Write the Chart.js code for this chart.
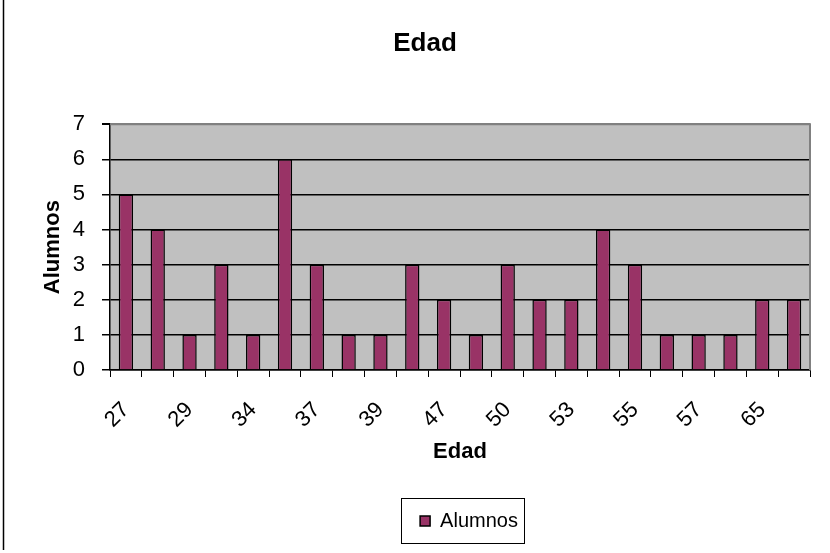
<!DOCTYPE html>
<html>
<head>
<meta charset="utf-8">
<script src="https://cdn.jsdelivr.net/npm/chart.js@4/dist/chart.umd.min.js"></script>
<style>
  body { margin: 0; background: #fff; }
  canvas { display: block; }
</style>
</head>
<body>
<canvas id="grafica" width="830" height="553"></canvas>
<script>
// Edades (solo se rotula una de cada dos)
const edades = ['27', '28', '29', '31', '34', '35', '37', '38', '39', '42', '47',
                '48', '50', '51', '53', '54', '55', '56', '57', '60', '65', '66'];
// Número de alumnos por edad
const alumnos = [5, 4, 1, 3, 1, 6, 3, 1, 1, 3, 2, 1, 3, 2, 2, 4, 3, 1, 1, 1, 2, 2];
const marcasY = [0, 1, 2, 3, 4, 5, 6, 7];

const fuente = "'Liberation Sans', Arial, sans-serif";

// Fondo gris del área de trazado, borde superior/derecho y línea del marco izquierdo
const fondoArea = {
    id: 'fondoArea',
    afterLayout(chart) {
        // la leyenda va un poco desplazada a la derecha
        chart.legend.left += 9;
        chart.legend.right += 9;
    },
    beforeDraw(chart) {
        const { ctx, chartArea: a } = chart;
        ctx.save();
        ctx.fillStyle = '#c0c0c0';
        ctx.fillRect(a.left, a.top, a.right - a.left, a.bottom - a.top);
        ctx.restore();
    },
    beforeDatasetsDraw(chart) {
        const { ctx, chartArea: a } = chart;
        ctx.save();
        ctx.strokeStyle = '#808080';
        ctx.lineWidth = 2;
        ctx.beginPath();
        ctx.moveTo(a.left, a.top);
        ctx.lineTo(a.right, a.top);
        ctx.lineTo(a.right, a.bottom);
        ctx.stroke();
        ctx.restore();
    },
    afterDraw(chart) {
        const ctx = chart.ctx;
        ctx.save();
        ctx.strokeStyle = '#000';
        ctx.lineWidth = 1.5;
        ctx.beginPath();
        ctx.moveTo(3.5, 0);
        ctx.lineTo(3.5, 550);
        ctx.stroke();

        // recuadro de la leyenda
        const hb = chart.legend.legendHitBoxes[0];
        if (hb) {
            const cy = hb.top + hb.height / 2;
            ctx.lineWidth = 1;
            ctx.strokeRect(Math.round(hb.left - 19) + 0.5, Math.round(cy - 23) + 0.5, Math.round(hb.width + 25), 45);
        }
        ctx.restore();
    }
};

const ctx = document.getElementById('grafica').getContext('2d');
new Chart(ctx, {
    type: 'bar',
    data: {
        labels: edades,
        datasets: [{
            label: 'Alumnos',
            data: alumnos,
            backgroundColor: '#993366',
            borderColor: '#000',
            borderWidth: 1.5,
            categoryPercentage: 1,
            barPercentage: 0.45
        }]
    },
    options: {
        responsive: false,
        animation: false,
        layout: { padding: { left: 40, right: 20, top: 0, bottom: 12 } },
        plugins: {
            title: {
                display: true,
                text: 'Edad',
                color: '#000',
                font: { family: fuente, size: 26, weight: 'bold' },
                padding: { top: 28, bottom: 65 }
            },
            legend: {
                position: 'bottom',
                fullSize: false,
                labels: {
                    color: '#000',
                    boxWidth: 10,
                    boxHeight: 10,
                    padding: 10,
                    font: { family: fuente, size: 20 },
                    generateLabels(chart) {
                        const ds = chart.data.datasets[0];
                        return [{
                            text: ds.label,
                            fillStyle: ds.backgroundColor,
                            strokeStyle: '#000',
                            lineWidth: 1.5,
                            fontColor: '#000',
                            datasetIndex: 0
                        }];
                    }
                }
            },
            tooltip: { enabled: false }
        },
        scales: {
            x: {
                offset: true,
                grid: {
                    offset: true,
                    drawOnChartArea: false,
                    drawTicks: true,
                    tickLength: 7,
                    color: '#000'
                },
                border: { color: '#000', width: 1.5 },
                ticks: {
                    autoSkip: false,
                    minRotation: 45,
                    maxRotation: 45,
                    padding: 20,
                    color: '#000',
                    font: { family: fuente, size: 22 },
                    callback: (v, i) => (i % 2 === 0 ? edades[i] : '')
                },
                title: {
                    display: true,
                    text: 'Edad',
                    color: '#000',
                    font: { family: fuente, size: 22, weight: 'bold' },
                    padding: { top: 36, bottom: 36 }
                },
                afterFit(s) {
                    s.height = 131;
                    s.paddingLeft = 0;
                    s.paddingRight = 0;
                }
            },
            y: {
                min: 0,
                max: 7,
                afterBuildTicks(s) { s.ticks = marcasY.map(v => ({ value: v })); },
                grid: {
                    color: c => (c.tick && c.tick.value === 7 ? '#808080' : '#000'),
                    lineWidth: c => (c.tick && c.tick.value === 7 ? 2 : 1.5),
                    tickColor: '#000',
                    tickLength: 8
                },
                border: { color: '#000', width: 1.5 },
                ticks: {
                    padding: 17,
                    color: '#000',
                    font: { family: fuente, size: 22 }
                },
                title: {
                    display: true,
                    text: 'Alumnos',
                    color: '#000',
                    font: { family: fuente, size: 22, weight: 'bold' },
                    padding: { top: 0, bottom: 0 }
                },
                afterFit(s) { s.width = 70; }
            }
        }
    },
    plugins: [fondoArea]
});
</script>
</body>
</html>
